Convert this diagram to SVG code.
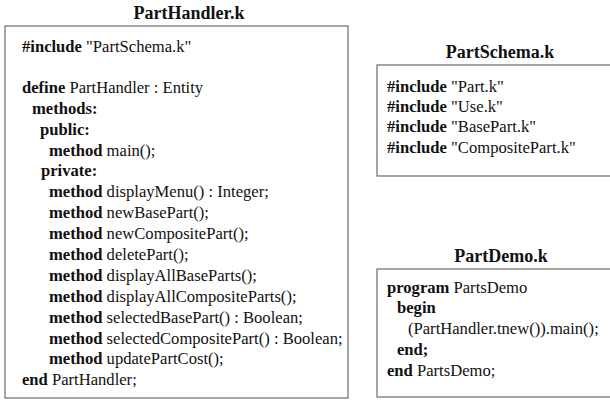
<svg xmlns="http://www.w3.org/2000/svg" width="610" height="400" viewBox="0 0 610 400">
<style>
text{font-family:"Liberation Serif","Times New Roman",serif;font-size:16.6px;fill:#111}
.t{font-weight:bold;font-size:18px;text-anchor:middle}
.k{font-weight:bold}
.box{fill:#fff;stroke:#777;stroke-width:1.3}
</style>
<rect width="610" height="400" fill="#fff"/>
<g id="PartHandler">
<text class="t" x="189" y="19">PartHandler.k</text>
<rect class="box" x="5" y="26" width="343" height="372"/>
<text x="22" y="52"><tspan class="k">#include</tspan> "PartSchema.k"</text>
<text x="22" y="93"><tspan class="k">define</tspan> PartHandler : Entity</text>
<text x="32" y="114" class="k">methods:</text>
<text x="40" y="135" class="k">public:</text>
<text x="49" y="156"><tspan class="k">method</tspan> main();</text>
<text x="41" y="176" class="k">private:</text>
<text x="49" y="197"><tspan class="k">method</tspan> displayMenu() : Integer;</text>
<text x="49" y="218"><tspan class="k">method</tspan> newBasePart();</text>
<text x="49" y="239"><tspan class="k">method</tspan> newCompositePart();</text>
<text x="49" y="260"><tspan class="k">method</tspan> deletePart();</text>
<text x="49" y="281"><tspan class="k">method</tspan> displayAllBaseParts();</text>
<text x="49" y="302"><tspan class="k">method</tspan> displayAllCompositeParts();</text>
<text x="49" y="323"><tspan class="k">method</tspan> selectedBasePart() : Boolean;</text>
<text x="49" y="344"><tspan class="k">method</tspan> selectedCompositePart() : Boolean;</text>
<text x="49" y="364"><tspan class="k">method</tspan> updatePartCost();</text>
<text x="22" y="385"><tspan class="k">end</tspan> PartHandler;</text>
</g>
<g id="PartSchema">
<text class="t" x="500" y="58">PartSchema.k</text>
<rect class="box" x="377" y="65" width="240" height="111"/>
<text x="387" y="92"><tspan class="k">#include</tspan> "Part.k"</text>
<text x="387" y="112"><tspan class="k">#include</tspan> "Use.k"</text>
<text x="387" y="132"><tspan class="k">#include</tspan> "BasePart.k"</text>
<text x="387" y="153"><tspan class="k">#include</tspan> "CompositePart.k"</text>
</g>
<g id="PartDemo">
<text class="t" x="501" y="262">PartDemo.k</text>
<rect class="box" x="377" y="269" width="240" height="128"/>
<text x="387" y="293"><tspan class="k">program</tspan> PartsDemo</text>
<text x="397" y="313" class="k">begin</text>
<text x="408" y="334">(PartHandler.tnew()).main();</text>
<text x="397" y="355" class="k">end;</text>
<text x="387" y="376"><tspan class="k">end</tspan> PartsDemo;</text>
</g>
<g id="connectors"></g>
</svg>
